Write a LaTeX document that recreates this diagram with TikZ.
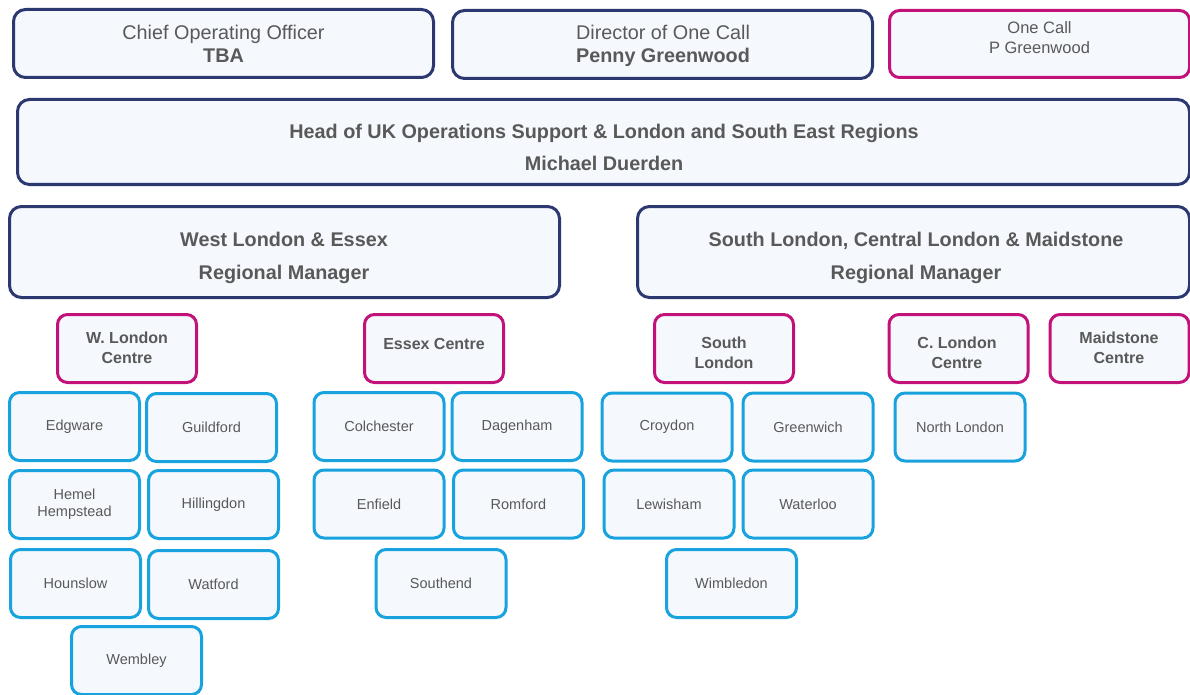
\documentclass[tikz,border=0pt]{standalone}
\usepackage{fontspec}
\setmainfont{Liberation Sans}
\definecolor{navyc}{HTML}{2C3870}
\definecolor{pinkc}{HTML}{C2127A}
\definecolor{bluec}{HTML}{18A3DE}
\definecolor{fillc}{HTML}{F5F8FD}
\definecolor{txtc}{HTML}{595959}
\begin{document}
\begin{tikzpicture}[x=1pt,y=-1pt,
  box/.style={rounded corners=10pt, fill=fillc, line width=3pt, inner sep=0pt, outer sep=0pt},
  navybox/.style={box, draw=navyc, rounded corners=12pt},
  pinkbox/.style={box, draw=pinkc, minimum width=139pt, minimum height=68pt},
  bluebox/.style={box, draw=bluec, minimum width=130pt, minimum height=68pt,
    font=\fontsize{14.5}{17}\selectfont, text=txtc, align=center},
  lbl/.style={text=txtc, align=center, inner sep=0pt},
  big/.style={lbl, font=\fontsize{19.8}{23}\selectfont},
  ctr/.style={lbl, font=\fontsize{16}{20}\selectfont\bfseries}]
\useasboundingbox (0,0) rectangle (1190,695);
\clip (0,0) rectangle (1190,695);
% top row
\node[navybox, minimum width=420pt, minimum height=68pt] (coo) at (223.5,43.5) {};
\node[big] (cooT) at (223.5,43.5) {Chief Operating Officer\\\textbf{TBA}};
\node[navybox, minimum width=420pt, minimum height=68pt] (dir) at (662.5,44.5) {};
\node[big] (dirT) at (663,46) {Director of One Call\\\textbf{Penny Greenwood}};
\node[box, draw=pinkc, minimum width=300pt, minimum height=67pt] (one) at (1039.5,44) {};
\node[lbl, font=\fontsize{16.5}{20}\selectfont] (oneT) at (1039.5,38) {One Call\\P Greenwood};
% head
\node[navybox, minimum width=1172pt, minimum height=85pt] (head) at (603.5,142) {};
\node[lbl, font=\fontsize{19.8}{32}\selectfont\bfseries] (headT) at (604,147)
  {Head of UK Operations Support \& London and South East Regions\\Michael Duerden};
% regions
\node[navybox, minimum width=550pt, minimum height=91pt] (west) at (284.5,252) {};
\node[lbl, font=\fontsize{19.8}{33}\selectfont\bfseries] (westT) at (284,257.5)
  {West London \& Essex\\Regional Manager};
\node[navybox, minimum width=552pt, minimum height=91pt] (south) at (913.5,252) {};
\node[lbl, font=\fontsize{19.8}{33}\selectfont\bfseries] (southT) at (916,257.5)
  {South London, Central London \& Maidstone\\Regional Manager};
% centres
\node[pinkbox] (wlc) at (127,348.5) {};
\node[ctr] (wlcT) at (127,348) {W. London\\Centre};
\node[pinkbox] (esc) at (434,348.5) {};
\node[ctr] (escT) at (434,344) {Essex Centre};
\node[pinkbox] (slc) at (724,348.5) {};
\node[ctr] (slcT) at (724,353) {South\\London};
\node[pinkbox] (clc) at (958.5,348.5) {};
\node[ctr] (clcT) at (957,353) {C. London\\Centre};
\node[pinkbox] (mdc) at (1119.5,348.5) {};
\node[ctr] (mdcT) at (1119,348) {Maidstone\\Centre};
% west london offices
\node[bluebox] (edg) at (74.5,426.5) {Edgware};
\node[bluebox] (gui) at (211.5,427.5) {Guildford};
\node[bluebox] (hem) at (74.5,504.5) {Hemel\\Hempstead};
\node[bluebox] (hil) at (213.5,504.5) {Hillingdon};
\node[bluebox] (hou) at (75.5,583.5) {Hounslow};
\node[bluebox] (wat) at (213.5,584.5) {Watford};
\node[bluebox] (wem) at (136.5,660.5) {Wembley};
% essex offices
\node[bluebox] (col) at (379,426.5) {Colchester};
\node[bluebox] (dag) at (517,426.5) {Dagenham};
\node[bluebox] (enf) at (379,504) {Enfield};
\node[bluebox] (rom) at (518.5,504) {Romford};
\node[bluebox] (sou) at (441,583.5) {Southend};
% south london offices
\node[bluebox] (cro) at (667,427) {Croydon};
\node[bluebox] (gre) at (808,427) {Greenwich};
\node[bluebox] (lew) at (669,504) {Lewisham};
\node[bluebox] (wlo) at (808,504) {Waterloo};
\node[bluebox] (wim) at (731.5,583.5) {Wimbledon};
% central london
\node[bluebox] (nor) at (960,427) {North London};
\end{tikzpicture}
\end{document}
